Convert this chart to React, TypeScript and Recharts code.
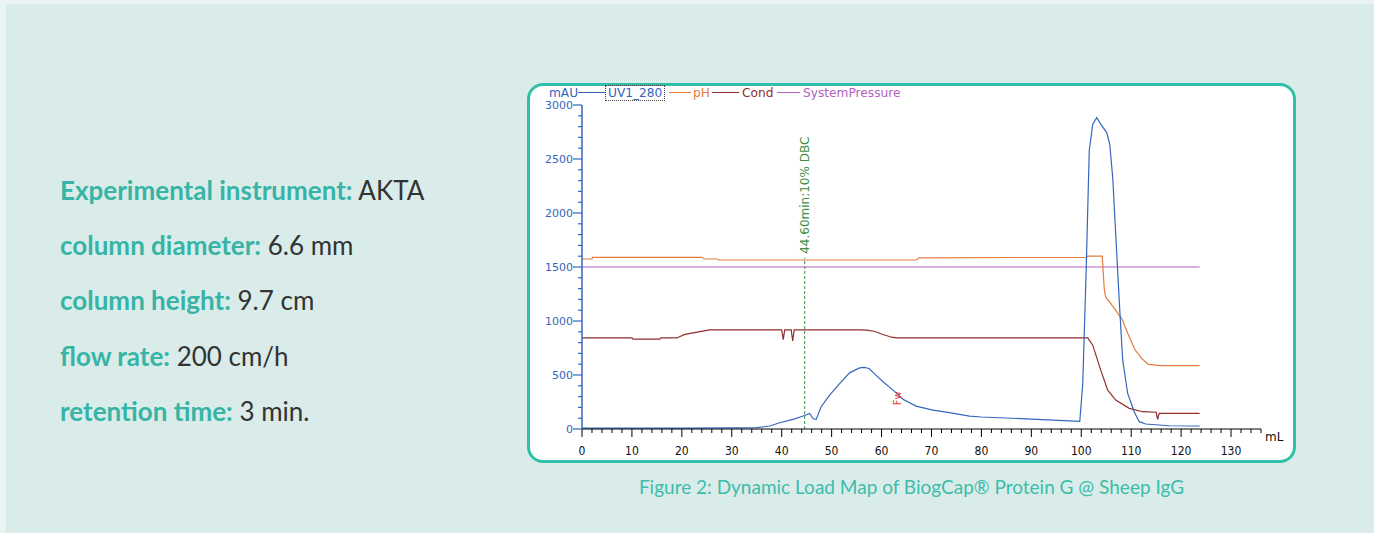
import React from "react";
import { LineChart, Line, XAxis, YAxis, ReferenceLine, ReferenceDot } from "recharts";

// UV1_280 trace (mL, mAU)
const uvVolume = [0, 10, 20, 30, 35, 37.6, 39.6, 42.3, 44.3, 45.6, 46.3, 46.9, 47.9, 49.6, 51.6, 53.6, 55.6, 56.5, 57.5, 58.6, 60.3, 62.3, 64.3, 66.9, 70.3, 73.6, 77.6, 80, 90, 99.7, 100.3, 101, 101.6, 102.3, 103.1, 103.9, 105.1, 105.7, 106.3, 106.9, 107.6, 108.3, 109.3, 110.6, 111.6, 112.9, 117.6, 123.7];
const uvAbs = [8, 8, 8, 10, 12, 28, 58, 89, 120, 144, 95, 89, 206, 314, 421, 520, 566, 570, 560, 510, 437, 360, 275, 212, 175, 151, 120, 111, 92, 70, 421, 1498, 2576, 2823, 2883, 2823, 2745, 2637, 2329, 1806, 1191, 637, 329, 160, 68, 46, 30, 28];

// pH trace
const phVolume = [0, 2, 2.1, 24, 24.5, 27, 27.5, 67, 67.5, 101, 101.3, 104.2, 104.6, 104.9, 105.9, 107.6, 108.1, 109.3, 110.8, 112.1, 113.4, 115.8, 123.7];
const phValue = [1574, 1574, 1590, 1590, 1574, 1574, 1565, 1565, 1585, 1590, 1600, 1600, 1300, 1221, 1163, 1052, 1025, 886, 731, 654, 599, 586, 586];

// Cond trace
const condVolume = [0, 10, 10.2, 15.6, 15.8, 19, 20.6, 23.6, 25.6, 40, 40.3, 40.6, 41.9, 42.2, 42.5, 55.5, 57, 58.5, 60, 62, 63, 101.3, 102.3, 103.9, 105.3, 106.9, 109.6, 112.3, 115, 115.3, 115.6, 117, 123.7];
const condValue = [843, 843, 833, 833, 843, 843, 876, 901, 917, 917, 828, 917, 917, 815, 917, 917, 915, 905, 880, 850, 843, 843, 776, 545, 360, 268, 191, 160, 155, 89, 145, 145, 145];

// SystemPressure trace
const pressureVolume = [0, 123.7];
const pressureValue = [1500, 1500];

const xMajorTicks = [0, 10, 20, 30, 40, 50, 60, 70, 80, 90, 100, 110, 120, 130];
const yMajorTicks = [0, 500, 1000, 1500, 2000, 2500, 3000];
const xTicks = Array.from({ length: 69 }, (_, i) => i * 2);
const yTicks = Array.from({ length: 31 }, (_, i) => i * 100);

const DBC_VOLUME = 44.6;
const DBC_TOP = 1585;
const DBC_LABEL = "44.60min:10% DBC";
const FW_POINT = { x: 63, y: 284 };

const BLUE = "#3566bd";
const ORANGE = "#e27d3f";
const DARK_RED = "#8f2e2e";
const PURPLE = "#b063be";
const GREEN = "#3d8f45";
const TEAL = "#37b4a5";

const toPoints = (xs: number[], ys: number[]) => xs.map((x, i) => ({ x, y: ys[i] }));

const uvData = toPoints(uvVolume, uvAbs);
const phData = toPoints(phVolume, phValue);
const condData = toPoints(condVolume, condValue);
const pressureData = toPoints(pressureVolume, pressureValue);

const AXIS_FONT = "'DejaVu Sans', sans-serif";
const NARROW_FONT = "'Liberation Sans Narrow', 'DejaVu Sans Condensed', 'Liberation Sans', sans-serif";
const TEXT_FONT = "Lato, 'Open Sans', sans-serif";

const YTick = (props: any) => {
  const { x, y, payload } = props;
  const v = payload.value;
  const major = yMajorTicks.includes(v);
  return (
    <g>
      <line x1={x - (major ? 9 : 4)} x2={x} y1={y} y2={y} stroke={BLUE} strokeWidth={1.2} />
      {major && (
        <text x={x - 9} y={y + 4} textAnchor="end" fill={BLUE} fontSize={11} fontFamily={AXIS_FONT}>
          {v}
        </text>
      )}
    </g>
  );
};

const XTick = (props: any) => {
  const { x, y, payload } = props;
  const v = payload.value;
  const major = xMajorTicks.includes(v);
  return (
    <g>
      <line x1={x} x2={x} y1={y} y2={y + (major ? 8 : 4)} stroke="#000" strokeWidth={1} />
      {major && (
        <text x={x} y={y + 26} textAnchor="middle" fill="#111" fontSize={12} fontFamily={NARROW_FONT}>
          {v}
        </text>
      )}
    </g>
  );
};

const DbcLabel = (props: any) => {
  const { cx, cy } = props;
  return (
    <text
      x={cx}
      y={cy}
      transform={`rotate(-90 ${cx} ${cy}) translate(4 4)`}
      fill={GREEN}
      fontSize={12}
      fontFamily={AXIS_FONT}
    >
      {DBC_LABEL}
    </text>
  );
};

const FwLabel = (props: any) => {
  const { cx, cy } = props;
  return (
    <text
      x={cx}
      y={cy}
      transform={`rotate(-90 ${cx} ${cy})`}
      textAnchor="middle"
      dy={4}
      fill="#e23b3b"
      fontSize={10}
      fontFamily={AXIS_FONT}
    >
      Fw
    </text>
  );
};

const legendText = (left: number, color: string): React.CSSProperties => ({
  position: "absolute",
  left,
  top: 0,
  lineHeight: "14px",
  color,
});

const legendLine = (left: number, width: number, color: string): React.CSSProperties => ({
  position: "absolute",
  left,
  top: 6,
  width,
  height: 1,
  background: color,
});

const rows: [string, string][] = [
  ["Experimental instrument:", "AKTA"],
  ["column diameter:", "6.6 mm"],
  ["column height:", "9.7 cm"],
  ["flow rate:", "200 cm/h"],
  ["retention time:", "3 min."],
];

export default function App() {
  return (
    <div style={{ position: "absolute", left: 0, top: 0, width: 1374, height: 533, background: "#eaf4f3", overflow: "hidden" }}>
      <div style={{ position: "absolute", left: 6, top: 4, right: 0, bottom: 0, background: "#d9ecea" }} />

      {rows.map(([k, v], i) => (
        <div
          key={k}
          style={{
            position: "absolute",
            left: 60,
            top: 175 + i * 55.2,
            fontFamily: TEXT_FONT,
            fontSize: 26,
            lineHeight: "30px",
            whiteSpace: "nowrap",
          }}
        >
          <span style={{ color: TEAL, fontWeight: 700 }}>{k}</span>
          <span style={{ color: "#333" }}> {v}</span>
        </div>
      ))}

      <div
        style={{
          position: "absolute",
          left: 527,
          top: 83,
          width: 769,
          height: 380,
          boxSizing: "border-box",
          border: "3px solid #30bfa9",
          borderRadius: 16,
          background: "#fff",
        }}
      >
        <LineChart width={763} height={374} margin={{ top: 19, right: 32, bottom: 0, left: 0 }}>
          <XAxis
            type="number"
            dataKey="x"
            domain={[0, 136]}
            ticks={xTicks}
            interval={0}
            tickSize={0}
            tickMargin={0}
            tick={<XTick />}
            height={31}
            axisLine={{ stroke: "#000", strokeWidth: 1 }}
            tickLine={false}
            allowDataOverflow
          />
          <YAxis
            type="number"
            domain={[0, 3000]}
            ticks={yTicks}
            interval={0}
            tickSize={0}
            tickMargin={0}
            tick={<YTick />}
            width={52}
            axisLine={{ stroke: BLUE, strokeWidth: 1.5 }}
            tickLine={false}
            allowDataOverflow
          />
          <ReferenceLine
            segment={[
              { x: DBC_VOLUME, y: 0 },
              { x: DBC_VOLUME, y: DBC_TOP },
            ]}
            stroke={GREEN}
            strokeDasharray="3 2"
          />
          <Line data={pressureData} dataKey="y" name="SystemPressure" type="linear" stroke={PURPLE} strokeWidth={1.2} dot={false} isAnimationActive={false} />
          <Line data={condData} dataKey="y" name="Cond" type="linear" stroke={DARK_RED} strokeWidth={1.2} dot={false} isAnimationActive={false} />
          <Line data={phData} dataKey="y" name="pH" type="linear" stroke={ORANGE} strokeWidth={1.2} dot={false} isAnimationActive={false} />
          <Line data={uvData} dataKey="y" name="UV1_280" type="linear" stroke={BLUE} strokeWidth={1.2} dot={false} isAnimationActive={false} />
          <ReferenceDot x={DBC_VOLUME} y={DBC_TOP} r={0} shape={<DbcLabel />} />
          <ReferenceDot x={FW_POINT.x} y={FW_POINT.y} r={0} shape={<FwLabel />} />
        </LineChart>

        <div
          style={{
            position: "absolute",
            left: 0,
            top: 0,
            width: 400,
            height: 16,
            fontFamily: AXIS_FONT,
            fontSize: 12.2,
            whiteSpace: "nowrap",
          }}
        >
          <span style={legendText(19, BLUE)}>mAU</span>
          <span style={legendLine(48, 27, BLUE)} />
          <span
            style={{
              ...legendText(75, BLUE),
              top: -1,
              border: "1px dotted #444",
              padding: "0 2px",
            }}
          >
            UV1_280
          </span>
          <span style={legendLine(139, 22, ORANGE)} />
          <span style={legendText(163, ORANGE)}>pH</span>
          <span style={legendLine(182, 27, DARK_RED)} />
          <span style={legendText(212, DARK_RED)}>Cond</span>
          <span style={legendLine(247, 23, PURPLE)} />
          <span style={legendText(273, PURPLE)}>SystemPressure</span>
        </div>

        <div
          style={{
            position: "absolute",
            left: 1265 - 530,
            top: 430 - 86,
            fontFamily: AXIS_FONT,
            fontSize: 12,
            color: "#111",
          }}
        >
          mL
        </div>
      </div>

      <div
        style={{
          position: "absolute",
          left: 527,
          width: 769,
          top: 475,
          textAlign: "center",
          fontFamily: TEXT_FONT,
          fontSize: 19,
          color: "#3dbcaa",
          whiteSpace: "nowrap",
        }}
      >
        Figure 2: Dynamic Load Map of BiogCap® Protein G @ Sheep IgG
      </div>
    </div>
  );
}
